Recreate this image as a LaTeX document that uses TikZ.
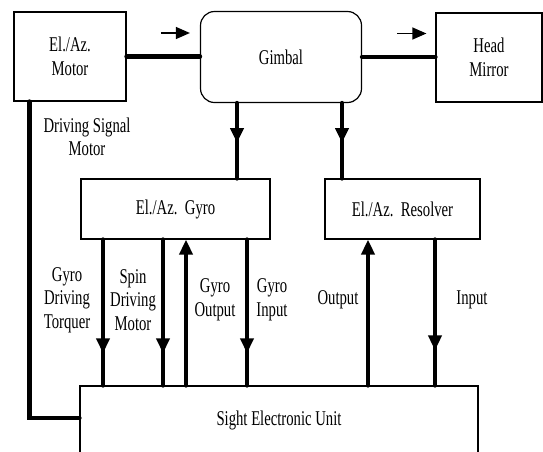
\documentclass[tikz,border=0pt]{standalone}
\usepackage{fontspec}
\setmainfont{Liberation Serif}[FakeStretch=0.7]
\usetikzlibrary{arrows.meta,decorations.markings}

\tikzset{
  block/.style={draw, line width=1.2pt, inner sep=0pt, align=center},
  bus/.style={line width=4.5pt, line cap=round},
  tip/.style={-{Triangle[width=13pt,length=15pt]}},
  midtip/.style={postaction={decorate}, decoration={markings,
      mark=at position #1 with {\arrow{Triangle[width=13pt,length=15pt]}}}},
  pointer/.style={line width=1.2pt, -{Triangle[width=12pt,length=14pt]}},
  tag/.style={align=center, inner sep=0pt}
}

\begin{document}
\begin{tikzpicture}[x=1pt, y=-1pt, font=\fontsize{21}{23.5}\selectfont]
    \clip (0,0) rectangle (543,451);

    % Top row
    \node[block, minimum width=112pt, minimum height=89pt] (motor) at (70,56.5) {El./Az.\\Motor};
    \node[block, rounded corners=14pt, minimum width=161pt, minimum height=91pt] (gimbal) at (281,57) {Gimbal};
    \node[block, minimum width=106pt, minimum height=89pt] (mirror) at (489,57.5) {Head\\Mirror};

    % Middle row
    \node[block, minimum width=189pt, minimum height=60pt] (gyro) at (175.5,209) {El./Az.\ \ Gyro};
    \node[block, minimum width=155pt, minimum height=60pt] (resolver) at (402.5,209) {El./Az.\ \ Resolver};

    % Electronic unit (runs past the bottom edge)
    \node[block, minimum width=398pt, minimum height=84pt,
          label={[yshift=8pt]center:Sight Electronic Unit}] (seu) at (279,428) {};

    % Mechanical links
    \draw[bus] (motor.east) -- (motor.east -| gimbal.west);
    \draw[bus] (gimbal.east) -- (gimbal.east -| mirror.west);
    \draw[pointer] ([xshift=-39pt,yshift=24pt]gimbal.west) -- ([xshift=-10pt,yshift=24pt]gimbal.west);
    \draw[pointer] ([xshift=-38pt,yshift=24pt]mirror.west) -- ([xshift=-9pt,yshift=24pt]mirror.west);

    % Gimbal to sensors
    \draw[bus, midtip=0.53] ([xshift=-44pt]gimbal.south) -- ([xshift=-44pt]gimbal.south |- gyro.north);
    \draw[bus, midtip=0.53] ([xshift=61pt]gimbal.south) -- ([xshift=61pt]gimbal.south |- resolver.north);

    % Motor driving signal
    \draw[bus] ([xshift=16pt]motor.south west) |- ([yshift=10pt]seu.west);
    \node[tag] (drvsig) at (87,137) {Driving Signal\\Motor};

    % Gyro signals
    \foreach \dx in {-72.5,-12.5,71.5} {
        \draw[bus, midtip=0.78] ([xshift=\dx pt]gyro.south) -- ([xshift=\dx pt]gyro.south |- seu.north);
    }
    \draw[bus, tip] ([xshift=10.5pt]gyro.south |- seu.north) -- ([xshift=10.5pt]gyro.south);
    \node[tag] (torquer) at (67,300) {Gyro\\Driving\\Torquer};
    \node[tag] (spin) at (133,300) {Spin\\Driving\\Motor};
    \node[tag] (gyroout) at (215,300) {Gyro\\Output};
    \node[tag] (gyroin) at (272,300) {Gyro\\Input};

    % Resolver signals
    \draw[bus, tip] ([xshift=-34.5pt]resolver.south |- seu.north) -- ([xshift=-34.5pt]resolver.south);
    \draw[bus, midtip=0.76] ([xshift=32.5pt]resolver.south) -- ([xshift=32.5pt]resolver.south |- seu.north);
    \node[tag] (resout) at (338,300) {Output};
    \node[tag] (resin) at (472,300) {Input};
\end{tikzpicture}
\end{document}
